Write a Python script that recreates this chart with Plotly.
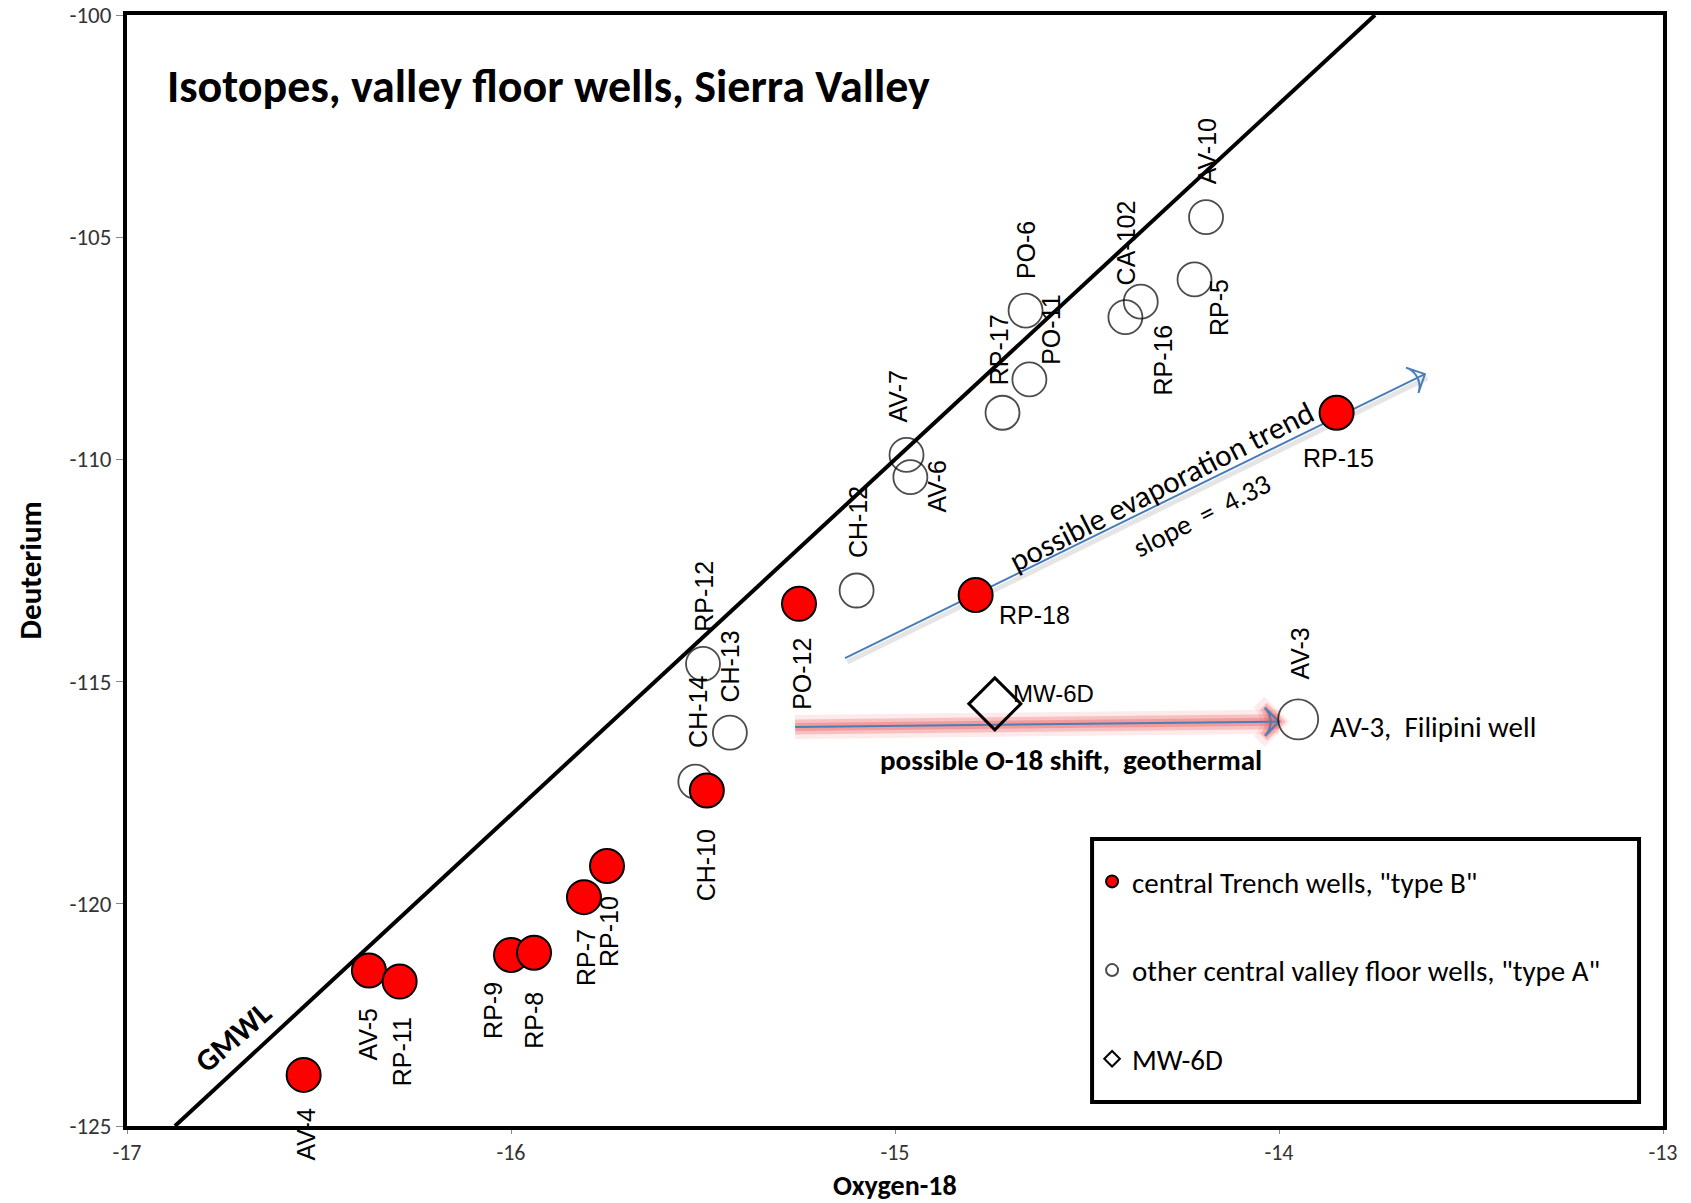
import plotly.graph_objects as go

# ---------------- data ----------------
typeB_names = ["AV-4", "AV-5", "RP-11", "RP-9", "RP-8", "RP-7", "RP-10",
               "CH-10", "PO-12", "RP-18", "RP-15"]
typeB_o18 = [-16.54, -16.37, -16.29, -16.00, -15.94, -15.81, -15.75,
             -15.49, -15.25, -14.79, -13.85]
typeB_dD = [-123.85, -121.5, -121.75, -121.15, -121.1, -119.85, -119.15,
            -117.45, -113.25, -113.05, -108.95]

typeA_names = ["CH-14", "CH-13", "RP-12", "CH-12", "AV-7", "AV-6", "RP-17",
               "PO-11", "PO-6", "RP-16", "CA-102", "RP-5", "AV-10", "AV-3"]
typeA_o18 = [-15.52, -15.43, -15.50, -15.10, -14.97, -14.96, -14.72,
             -14.65, -14.66, -14.40, -14.36, -14.22, -14.19, -13.95]
typeA_dD = [-117.25, -116.15, -114.6, -112.95, -109.9, -110.4, -108.95,
            -108.2, -106.65, -106.8, -106.45, -105.95, -104.55, -115.85]

mw_names = ["MW-6D"]
mw_o18 = [-14.74]
mw_dD = [-115.5]

# global meteoric water line end points
gmwl_o18 = [-16.875, -13.75]
gmwl_dD = [-125.0, -100.0]

# hand-drawn arrows of the original
evap_o18 = [-15.13, -13.62]
evap_dD = [-114.47, -108.08]
shift_o18 = [-15.26, -14.00]
shift_dD = [-116.02, -115.9]

x_ticks = [-17, -16, -15, -14, -13]
y_ticks = [-125, -120, -115, -110, -105, -100]

title_text = "Isotopes, valley floor wells, Sierra Valley"
x_title = "Oxygen-18"
y_title = "Deuterium"
legend_names = ['central Trench wells, "type B"',
                'other central valley floor wells, "type A"',
                "MW-6D"]

# ---------------- styling / label placement ----------------
LABEL_FONT = dict(family="Liberation Sans, Arial, sans-serif", size=25, color="black")
CAL = "Carlito, Lato, sans-serif"

# (dx, dy, angle) pixel offsets of each point label (dy positive = down)
label_pos = {
    "AV-4": (2, 60, -90), "AV-5": (0, 64, -90), "RP-11": (2, 70, -90),
    "RP-9": (-18, 56, -90), "RP-8": (0, 68, -90), "RP-7": (2, 60, -90),
    "RP-10": (2, 66, -90), "CH-10": (0, 75, -90), "PO-12": (3, 70, -90),
    "RP-18": (59, 20, 0), "RP-15": (2, 45, 0),
    "CH-14": (2, -70, -90), "CH-13": (0, -66, -90), "RP-12": (1, -67, -90),
    "CH-12": (1, -68, -90), "AV-7": (-9, -58, -90), "AV-6": (27, 9, -90),
    "RP-17": (-4, -63, -90), "PO-11": (22, -50, -90), "PO-6": (0, -60, -90),
    "RP-16": (38, 43, -90), "CA-102": (-15, -59, -90), "RP-5": (25, 28, -90),
    "AV-10": (1, -66, -90), "AV-3": (2, -66, -90),
}

fig = go.Figure()

# GMWL
fig.add_trace(go.Scatter(x=gmwl_o18, y=gmwl_dD, mode="lines",
                         line=dict(color="black", width=4),
                         showlegend=False, hoverinfo="skip"))

# O-18 shift arrow: soft red glow + blue arrow
for w, a, ms, mw in [(24, 0.12, 28, 15), (15, 0.28, 22, 10), (8, 0.35, 20, 5)]:
    col = "rgba(235,85,85,%s)" % a
    fig.add_trace(go.Scatter(x=shift_o18, y=shift_dD, mode="lines+markers",
                             line=dict(color=col, width=w, backoff=0),
                             marker=dict(symbol=["circle", "arrow-wide-open"], size=[0, ms],
                                         angleref="previous", opacity=[0, 1], color=col,
                                         line=dict(width=mw, color=col)),
                             showlegend=False, hoverinfo="skip"))
fig.add_trace(go.Scatter(x=shift_o18, y=shift_dD, mode="lines+markers",
                         line=dict(color="#4a7ebb", width=2, backoff=0),
                         marker=dict(symbol=["circle", "arrow-wide-open"], size=[0, 20],
                                     angleref="previous", opacity=[0, 1],
                                     color="#4a7ebb",
                                     line=dict(width=2, color="#4a7ebb")),
                         showlegend=False, hoverinfo="skip"))

# evaporation arrow (with soft shadow)
fig.add_trace(go.Scatter(x=[v + 0.006 for v in evap_o18], y=[v - 0.09 for v in evap_dD],
                         mode="lines", line=dict(color="rgba(0,0,0,0.10)", width=5),
                         showlegend=False, hoverinfo="skip"))
fig.add_trace(go.Scatter(x=evap_o18, y=evap_dD, mode="lines+markers",
                         line=dict(color="#4a7ebb", width=2, backoff=0),
                         marker=dict(symbol=["circle", "arrow-wide-open"], size=[0, 20],
                                     angleref="previous", opacity=[0, 1],
                                     color="#4a7ebb",
                                     line=dict(width=2, color="#4a7ebb")),
                         showlegend=False, hoverinfo="skip"))

# type A open circles
sizeA = [40 if n == "AV-3" else 34 for n in typeA_names]
fig.add_trace(go.Scatter(x=typeA_o18, y=typeA_dD, mode="markers", name=legend_names[1],
                         text=typeA_names, legendgroup="a", legendrank=2,
                         marker=dict(symbol="circle-open", size=sizeA, color="black",
                                     line=dict(width=1.8, color="black"))))
# type B red circles
fig.add_trace(go.Scatter(x=typeB_o18, y=typeB_dD, mode="markers", name=legend_names[0],
                         text=typeB_names, legendgroup="b", legendrank=1,
                         marker=dict(symbol="circle", size=34, color="#ff0000",
                                     line=dict(width=2, color="black"))))
# MW-6D
fig.add_trace(go.Scatter(x=mw_o18, y=mw_dD, mode="markers", name=legend_names[2],
                         text=mw_names, legendgroup="c", legendrank=3,
                         marker=dict(symbol="diamond-open", size=40, color="black",
                                     line=dict(width=3, color="black"))))

# point labels
for names, xs, ys in [(typeB_names, typeB_o18, typeB_dD), (typeA_names, typeA_o18, typeA_dD)]:
    for n, xv, yv in zip(names, xs, ys):
        dx, dy, ang = label_pos[n]
        fig.add_annotation(x=xv, y=yv, text=n, showarrow=False, textangle=ang,
                           xshift=dx, yshift=-dy, font=LABEL_FONT,
                           xanchor="center", yanchor="middle")

# extra labels
fig.add_annotation(x=typeA_o18[-1], y=typeA_dD[-1], text="AV-3,  Filipini well",
                   showarrow=False, xanchor="left", yanchor="middle",
                   xshift=30, yshift=-8, font=dict(family=CAL, size=29, color="black"))
fig.add_annotation(x=mw_o18[0], y=mw_dD[0], text="MW-6D", showarrow=False,
                   xanchor="left", yanchor="middle", xshift=16, yshift=10,
                   font=dict(family="Liberation Sans Narrow, Liberation Sans, Arial", size=24,
                             color="black"))

# text annotations
fig.add_annotation(x=-16.725, y=-123.0, text="<b>GMWL</b>", showarrow=False, textangle=-41,
                   font=dict(family=CAL, size=31, color="black"))
fig.add_annotation(x=-14.306, y=-110.6, text="possible evaporation trend", showarrow=False,
                   textangle=-27, font=dict(family=CAL, size=31, color="black"))
fig.add_annotation(x=-14.20, y=-111.26, text="slope  =  4.33", showarrow=False,
                   textangle=-27, font=dict(family=CAL, size=28, color="black"))
fig.add_annotation(x=-14.542, y=-116.77, text="<b>possible O-18 shift,  geothermal</b>",
                   showarrow=False, font=dict(family=CAL, size=29, color="black"))

# chart title
fig.add_annotation(xref="paper", yref="paper", x=0.0247, y=0.9364, xanchor="left",
                   yanchor="middle", text="<b>" + title_text + "</b>", showarrow=False,
                   font=dict(family=CAL, size=46, color="black"))

# axis titles
fig.add_annotation(xref="paper", yref="paper", x=0.5, y=-0.054, xanchor="center",
                   yanchor="middle", text="<b>" + x_title + "</b>", showarrow=False,
                   font=dict(family=CAL, size=28, color="black"))
fig.add_annotation(xref="paper", yref="paper", x=-0.0632, y=0.5, xanchor="center",
                   yanchor="middle", text="<b>" + y_title + "</b>", showarrow=False,
                   textangle=-90, font=dict(family=CAL, size=31, color="black"))

# legend frame
fig.add_shape(type="rect", xref="paper", yref="paper", x0=0.6283, x1=0.9844,
              y0=0.0216, y1=0.2583, line=dict(color="black", width=4),
              fillcolor="white", layer="below")

fig.update_layout(
    width=1691, height=1203,
    margin=dict(l=127, r=28, t=15, b=77, autoexpand=False),
    paper_bgcolor="white", plot_bgcolor="white",
    showlegend=True,
    legend=dict(x=0.6283, y=0.243, xanchor="left", yanchor="top",
                bgcolor="rgba(0,0,0,0)", borderwidth=0,
                font=dict(family=CAL, size=29, color="black"),
                tracegroupgap=48, itemsizing="constant",
                traceorder="grouped"),
    xaxis=dict(range=[-17, -13], tickvals=x_ticks, ticktext=[str(v) for v in x_ticks],
               showline=True, mirror=True, linewidth=4, linecolor="black",
               ticks="outside", ticklen=4, tickcolor="#888", tickwidth=1,
               showgrid=False, zeroline=False, automargin=False,
               tickfont=dict(family=CAL, size=22, color="#333")),
    yaxis=dict(range=[-125, -100], tickvals=y_ticks, ticktext=[str(v) for v in y_ticks],
               showline=True, mirror=True, linewidth=4, linecolor="black",
               ticks="outside", ticklen=7, tickcolor="#888", tickwidth=1,
               showgrid=False, zeroline=False, automargin=False,
               tickfont=dict(family=CAL, size=23, color="#333")),
)

fig.write_html("out.html", config={"displayModeBar": False},
               post_script="document.body.style.margin='0';")
